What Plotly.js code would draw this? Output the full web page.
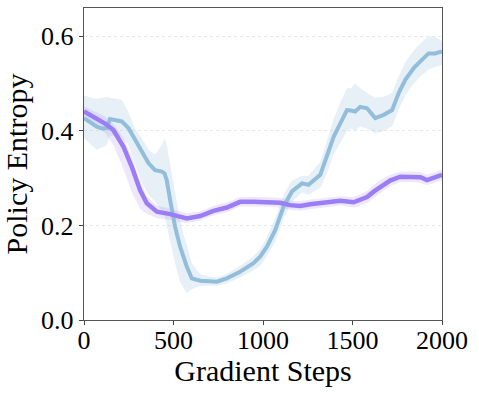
<!DOCTYPE html>
<html>
<head>
<meta charset="utf-8">
<script src="https://cdn.plot.ly/plotly-3.0.1.min.js"></script>
<style>html,body{margin:0;padding:0;background:#fff}#chart{width:479px;height:395px}</style>
</head>
<body>
<div id="chart"></div>
<script>
// Blue series (x, mean, lower, upper)
const blueSteps = [0,40,71,100,127,145,180,211,248,285,323,360,397,435,450,462,481,509,537,560,574,602,649,700,742,798,872,947,984,1022,1068,1115,1162,1218,1254,1320,1357,1395,1432,1469,1490,1515,1543,1581,1627,1674,1721,1758,1795,1842,1879,1925,1962,2000];
const blueMean  = [0.427,0.418,0.409,0.405,0.406,0.425,0.423,0.420,0.406,0.381,0.356,0.332,0.317,0.314,0.310,0.296,0.254,0.197,0.155,0.125,0.113,0.088,0.083,0.082,0.081,0.088,0.102,0.120,0.134,0.155,0.190,0.240,0.272,0.289,0.286,0.307,0.346,0.388,0.416,0.444,0.443,0.441,0.451,0.448,0.427,0.434,0.444,0.480,0.508,0.533,0.547,0.564,0.564,0.568];
const blueLow   = [0.385,0.370,0.360,0.365,0.370,0.390,0.390,0.385,0.370,0.330,0.290,0.265,0.250,0.230,0.220,0.200,0.170,0.120,0.080,0.065,0.057,0.065,0.072,0.073,0.072,0.078,0.090,0.105,0.115,0.135,0.165,0.215,0.250,0.270,0.265,0.280,0.310,0.350,0.375,0.400,0.405,0.400,0.410,0.405,0.395,0.400,0.410,0.445,0.475,0.500,0.515,0.530,0.535,0.540];
const blueHigh  = [0.475,0.470,0.468,0.470,0.472,0.470,0.468,0.466,0.440,0.405,0.385,0.360,0.350,0.370,0.385,0.370,0.330,0.270,0.210,0.175,0.160,0.120,0.097,0.092,0.090,0.098,0.114,0.135,0.150,0.175,0.215,0.265,0.295,0.305,0.305,0.335,0.380,0.425,0.460,0.490,0.490,0.500,0.490,0.480,0.470,0.472,0.480,0.515,0.545,0.570,0.585,0.600,0.598,0.590];

// Purple series (x, mean, lower, upper)
const purpleSteps = [0,71,120,164,220,267,313,351,407,481,540,574,649,723,798,872,947,1022,1096,1150,1208,1264,1320,1380,1432,1506,1545,1581,1620,1655,1710,1767,1842,1880,1916,1960,2000];
const purpleMean  = [0.441,0.427,0.415,0.402,0.367,0.324,0.275,0.247,0.229,0.224,0.218,0.215,0.220,0.231,0.238,0.250,0.250,0.250,0.248,0.243,0.241,0.245,0.247,0.249,0.252,0.249,0.254,0.260,0.272,0.282,0.295,0.303,0.303,0.302,0.296,0.302,0.307];
const purpleLow   = [0.425,0.410,0.395,0.370,0.320,0.270,0.235,0.225,0.215,0.212,0.207,0.205,0.210,0.221,0.228,0.240,0.240,0.240,0.238,0.233,0.231,0.235,0.237,0.239,0.242,0.238,0.242,0.247,0.258,0.268,0.283,0.292,0.292,0.290,0.285,0.290,0.295];
const purpleHigh  = [0.452,0.440,0.430,0.415,0.385,0.345,0.295,0.262,0.242,0.236,0.230,0.226,0.230,0.241,0.249,0.260,0.260,0.260,0.258,0.253,0.251,0.255,0.257,0.259,0.262,0.260,0.267,0.273,0.286,0.296,0.307,0.314,0.314,0.313,0.307,0.313,0.318];

const xTicks = [0,500,1000,1500,2000];
const yTicks = [0.0,0.2,0.4,0.6];
const yTickText = ['0.0','0.2','0.4','0.6'];

const blueColor = '#93bedb';
const blueBand = 'rgba(160,195,225,0.25)';
const purpleColor = '#9b7df5';
const purpleBand = 'rgba(170,140,250,0.20)';

function band(x, lo, hi, color) {
  return {
    x: x.concat(x.slice().reverse()),
    y: hi.concat(lo.slice().reverse()),
    type: 'scatter', mode: 'lines', fill: 'toself', fillcolor: color,
    line: {width: 0}, hoverinfo: 'skip', showlegend: false
  };
}

const data = [
  band(blueSteps, blueLow, blueHigh, blueBand),
  band(purpleSteps, purpleLow, purpleHigh, purpleBand),
  {x: blueSteps, y: blueMean, type: 'scatter', mode: 'lines', line: {color: blueColor, width: 4}, showlegend: false},
  {x: purpleSteps, y: purpleMean, type: 'scatter', mode: 'lines', line: {color: purpleColor, width: 4.5}, showlegend: false}
];

const fontFam = '"Liberation Serif", "Times New Roman", serif';
const layout = {
  width: 479, height: 395,
  margin: {l: 84, r: 37, t: 8, b: 75},
  paper_bgcolor: '#fff', plot_bgcolor: '#fff',
  font: {family: fontFam, color: '#000', size: 26},
  showlegend: false,
  xaxis: {
    range: [0, 2000], tickvals: xTicks, ticktext: xTicks.map(String),
    ticks: 'outside', ticklen: 4, tickcolor: '#444', tickwidth: 1,
    ticklabelstandoff: -8,
    showline: true, linecolor: '#555', linewidth: 1.3, mirror: true,
    showgrid: false, zeroline: false,
    tickfont: {size: 26, family: fontFam},
    title: {text: 'Gradient Steps', font: {size: 30, family: fontFam}, standoff: 1}
  },
  yaxis: {
    range: [0, 0.66], tickvals: yTicks, ticktext: yTickText,
    ticks: 'outside', ticklen: 4, tickcolor: '#444', tickwidth: 1,
    showline: true, linecolor: '#555', linewidth: 1.3, mirror: true,
    showgrid: true, gridcolor: '#e8e8e8', griddash: 'dot', gridwidth: 1,
    zeroline: false,
    tickfont: {size: 26, family: fontFam},
    title: {text: 'Policy Entropy', font: {size: 30, family: fontFam}, standoff: 6}
  }
};

Plotly.newPlot('chart', data, layout, {staticPlot: true, displayModeBar: false});
</script>
</body>
</html>
